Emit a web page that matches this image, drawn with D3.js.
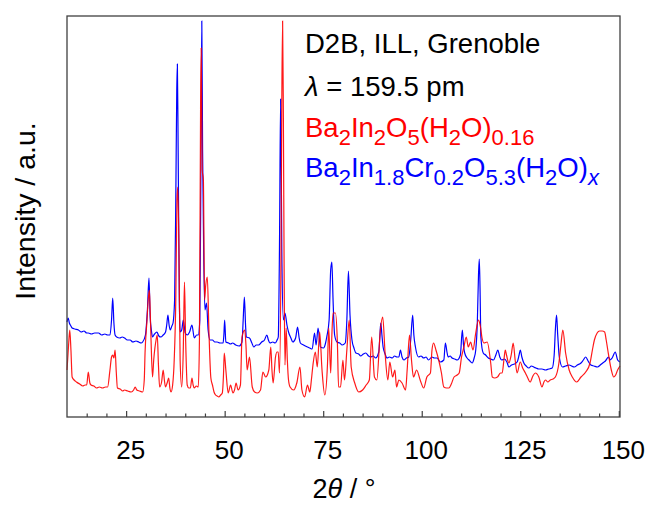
<!DOCTYPE html>
<html>
<head>
<meta charset="utf-8">
<script src="https://cdn.jsdelivr.net/npm/d3@7"></script>
<style>
  body { margin: 0; background: #fff; }
  text { font-family: "Liberation Sans", Arial, sans-serif; }
</style>
</head>
<body>
<div id="chart"></div>
<script>
// x range in 2theta / deg
const twoThetaRange = [10, 150.3];
const majorTicks = [25, 50, 75, 100, 125, 150];
const minorTicks = [15, 20, 30, 35, 40, 45, 55, 60, 65, 70, 80, 85, 90, 95, 105, 110, 115, 120, 130, 135, 140, 145];
const intensityRange = [0, 4010];

// Ba2In2O5(H2O)0.16  [2theta, intensity]
const redPattern = [
  [10.0,470],[10.4,720],[10.7,870],[11.0,670],[11.3,400],[11.8,370],[12.4,350],[13.2,330],[14.0,310],[14.6,320],
  [15.0,320],[15.4,450],[15.8,340],[16.1,320],[16.8,310],[17.5,290],[18.2,300],[19.0,290],[19.8,300],[20.3,300],
  [20.9,470],[21.3,600],[21.6,620],[21.9,590],[22.2,670],[22.5,450],[22.8,290],[23.5,280],[24.1,260],[24.6,270],
  [25.4,260],[26.3,250],[26.9,270],[27.3,300],[27.7,270],[28.4,260],[29.2,250],[29.6,370],[29.8,640],[30.3,970],
  [30.6,1170],[30.9,1270],[31.1,1070],[31.3,800],[31.7,400],[32.0,570],[32.3,690],[32.6,770],[32.9,820],[33.2,520],
  [33.5,300],[34.0,350],[34.4,470],[34.7,370],[35.0,300],[35.4,340],[35.8,390],[36.1,290],[36.4,250],[36.8,320],
  [37.2,570],[37.6,1170],[37.9,2170],[38.1,2300],[38.4,1670],[38.7,570],[39.1,300],[39.5,670],[39.8,1350],[40.1,770],
  [40.5,320],[40.9,290],[41.3,290],[41.7,390],[42.0,320],[42.3,290],[42.8,310],[43.3,300],[43.6,770],[43.9,3170],
  [44.05,3690],[44.3,2470],[44.6,2370],[44.9,1170],[45.2,1320],[45.6,1400],[46.0,870],[46.5,390],[46.9,320],[47.3,250],
  [47.7,220],[48.1,210],[48.5,200],[49.0,220],[49.4,240],[49.7,420],[49.9,640],[50.3,470],[50.9,240],[51.5,320],
  [52.1,240],[52.5,270],[52.9,340],[53.4,270],[54.0,320],[54.4,800],[55.1,870],[55.4,720],[55.7,470],[56.3,600],
  [57.0,300],[57.6,250],[58.3,240],[59.1,270],[59.7,450],[60.4,400],[61.2,470],[61.7,700],[62.0,470],[62.3,340],
  [62.9,600],[63.3,650],[63.6,650],[63.9,440],[64.3,1670],[64.5,3170],[64.7,3960],[64.9,2970],[65.1,1370],[65.3,520],
  [65.6,890],[65.9,570],[66.2,370],[66.6,300],[67.5,270],[68.3,340],[69.1,500],[69.6,270],[70.3,200],[71.0,320],
  [71.6,250],[72.0,370],[72.4,520],[73.0,650],[73.5,500],[74.1,850],[74.7,470],[75.4,220],[76.1,540],[76.4,890],
  [76.9,440],[77.2,820],[77.5,1040],[78.1,1040],[78.6,740],[78.9,300],[79.4,300],[80.0,570],[80.4,370],[81.0,670],
  [81.6,970],[82.1,500],[83.0,340],[84.0,250],[85.0,270],[85.9,320],[86.7,370],[87.3,800],[88.0,400],[88.6,370],
  [89.5,870],[90.1,1000],[90.7,640],[91.4,370],[91.9,550],[92.6,400],[93.2,470],[93.6,300],[94.2,370],[95.0,340],
  [95.9,270],[96.3,470],[96.9,820],[97.4,570],[97.9,400],[98.7,470],[99.6,370],[100.5,290],[101.3,400],[102.2,440],
  [102.6,670],[103.0,740],[103.6,670],[104.3,570],[105.0,440],[105.6,300],[106.3,290],[106.9,290],[107.5,330],[108.2,400],
  [109.0,420],[109.5,440],[110.1,600],[110.7,700],[111.3,800],[111.8,700],[112.4,750],[113.0,670],[113.7,840],[114.4,970],
  [114.9,900],[115.3,790],[115.8,740],[116.6,750],[117.5,540],[117.9,400],[118.5,390],[119.2,400],[120.0,440],[120.4,440],
  [120.9,590],[121.2,670],[121.5,620],[122.1,540],[122.7,620],[123.2,740],[123.7,570],[124.2,440],[125.0,550],[125.6,490],
  [126.3,440],[126.9,390],[127.5,350],[128.2,410],[128.8,440],[129.7,400],[130.5,300],[131.0,350],[131.4,370],[132.0,350],
  [132.6,370],[133.3,380],[133.9,400],[134.8,540],[135.3,720],[135.8,870],[136.5,640],[137.4,470],[138.2,400],[139.3,350],
  [140.4,400],[141.6,450],[142.7,540],[143.3,670],[143.8,770],[144.5,840],[145.1,860],[145.8,860],[146.4,850],[146.8,770],
  [147.2,670],[148.1,470],[148.7,400],[149.2,420],[149.7,470],[150.3,510]
];

// Ba2In1.8Cr0.2O5.3(H2O)x  [2theta, intensity]
const bluePattern = [
  [10.0,950],[10.3,990],[10.6,940],[11.0,910],[11.3,890],[12.0,880],[12.9,870],[13.6,850],[14.3,860],[15.0,840],
  [15.4,840],[16.2,830],[17.0,840],[18.0,840],[18.8,820],[19.6,830],[20.3,820],[20.9,820],[21.3,970],[21.6,1190],
  [21.9,940],[22.2,820],[22.6,800],[23.4,790],[24.0,800],[24.6,790],[25.3,770],[26.0,770],[26.7,750],[27.5,760],
  [28.2,750],[28.8,740],[29.2,750],[29.9,820],[30.4,1070],[30.8,1390],[31.1,1000],[31.4,870],[31.7,800],[32.2,830],
  [32.8,850],[33.3,810],[33.8,800],[34.4,820],[35.0,850],[35.3,920],[35.6,1020],[35.9,920],[36.2,870],[36.6,910],
  [36.9,940],[37.3,1170],[37.6,2170],[37.85,3270],[38.0,3530],[38.2,2670],[38.5,1170],[38.7,850],[39.1,870],[39.5,970],
  [40.0,840],[40.5,820],[41.1,850],[41.7,920],[42.3,790],[42.9,820],[43.3,820],[43.7,970],[44.0,2670],[44.2,3960],
  [44.4,2670],[44.7,1570],[45.0,1070],[45.4,1140],[45.8,870],[46.3,770],[46.9,770],[47.5,750],[48.1,750],[48.8,740],
  [49.6,740],[49.8,820],[50.0,970],[50.3,750],[51.0,740],[51.5,730],[52.0,740],[52.8,720],[53.7,710],[54.4,750],
  [54.7,970],[55.0,1200],[55.3,920],[55.5,800],[56.3,790],[56.9,740],[57.4,700],[58.0,720],[58.6,720],[59.4,750],
  [60.1,770],[60.7,820],[61.1,770],[61.5,740],[62.2,750],[62.8,740],[63.3,770],[63.6,800],[63.9,1670],[64.2,3180],
  [64.5,1670],[64.9,970],[65.3,1040],[65.8,920],[66.2,850],[66.8,790],[67.3,750],[68.0,790],[68.5,900],[68.9,790],
  [69.2,740],[70.0,720],[71.0,700],[71.6,690],[72.2,680],[72.8,840],[73.2,720],[73.7,890],[74.3,700],[75.1,690],
  [75.6,740],[75.9,800],[76.5,970],[76.9,1470],[77.2,1550],[77.5,1170],[77.9,820],[78.5,750],[79.2,740],[79.8,720],
  [80.6,740],[81.0,970],[81.4,1460],[81.8,1020],[82.3,770],[82.8,690],[83.3,640],[84.0,630],[84.5,610],[85.2,630],
  [85.8,640],[86.5,610],[87.0,600],[87.7,610],[88.3,590],[89.1,650],[89.4,820],[89.6,940],[89.9,820],[90.2,700],
  [90.7,630],[91.2,590],[91.8,600],[92.5,590],[93.1,610],[93.7,600],[94.2,600],[94.6,670],[95.0,600],[95.5,570],
  [96.1,590],[96.7,600],[97.2,770],[97.7,1020],[98.0,820],[98.4,700],[99.2,600],[99.8,610],[100.5,590],[101.1,600],
  [101.7,570],[102.6,600],[103.2,590],[103.9,590],[104.7,550],[105.6,570],[106.0,740],[106.4,650],[106.7,600],[107.2,610],
  [107.7,590],[108.4,580],[109.0,570],[109.8,620],[110.3,870],[110.6,720],[110.9,640],[111.5,590],[112.0,570],[112.8,540],
  [113.3,590],[113.7,670],[114.1,940],[114.4,1420],[114.6,1580],[114.8,1270],[115.0,800],[115.6,640],[116.2,620],[116.9,590],
  [117.5,580],[118.2,570],[118.8,620],[119.3,670],[119.8,600],[120.3,570],[121.0,580],[121.6,550],[122.1,500],[122.8,520],
  [123.5,530],[124.2,550],[124.7,620],[125.0,670],[125.4,600],[125.9,540],[126.5,510],[127.2,490],[127.8,510],[128.4,500],
  [129.0,490],[129.7,480],[130.5,480],[131.4,470],[132.2,480],[133.1,490],[133.6,620],[133.9,870],[134.2,1020],[134.5,820],
  [134.9,600],[135.7,500],[136.5,510],[137.4,520],[138.0,510],[138.7,500],[139.5,520],[140.4,540],[141.0,570],[141.6,600],
  [142.2,560],[142.9,520],[143.7,510],[144.6,500],[145.3,520],[145.9,540],[146.6,560],[147.4,600],[147.8,570],[148.3,590],
  [149.1,650],[149.7,570],[150.3,550]
];

const W = 649, H = 509;
const box = {left: 67, right: 620, top: 16, bottom: 417};

const svg = d3.select("#chart")
  .append("svg")
  .attr("width", W)
  .attr("height", H);

const x = d3.scaleLinear().domain(twoThetaRange).range([box.left, box.right]);
const y = d3.scaleLinear().domain(intensityRange).range([box.bottom, box.top]);

// lines
const line = d3.line()
  .curve(d3.curveMonotoneX)
  .x(d => x(d[0]))
  .y(d => y(d[1]));

svg.append("path")
  .datum(bluePattern)
  .attr("fill", "none")
  .attr("stroke", "#0000ff")
  .attr("stroke-width", 1.2)
  .attr("d", line);

svg.append("path")
  .datum(redPattern)
  .attr("fill", "none")
  .attr("stroke", "#ff0000")
  .attr("stroke-width", 1.2)
  .attr("stroke-opacity", 0.9)
  .attr("d", line);

// frame
svg.append("rect")
  .attr("x", box.left)
  .attr("y", box.top)
  .attr("width", box.right - box.left)
  .attr("height", box.bottom - box.top)
  .attr("fill", "none")
  .attr("stroke", "#404040")
  .attr("stroke-width", 1.3);

// bottom axis, ticks pointing inward
const gMinor = svg.append("g")
  .attr("transform", `translate(0,${box.bottom})`)
  .call(d3.axisBottom(x).tickValues(minorTicks).tickSize(-3.5).tickFormat(""));
gMinor.select(".domain").remove();
gMinor.selectAll("line").attr("stroke", "#404040").attr("stroke-width", 1.2);

const gMajor = svg.append("g")
  .attr("transform", `translate(0,${box.bottom})`)
  .call(d3.axisBottom(x).tickValues(majorTicks).tickSize(-6).tickPadding(24));
gMajor.select(".domain").remove();
gMajor.selectAll("line").attr("stroke", "#404040").attr("stroke-width", 1.2);
gMajor.selectAll("text")
  .attr("font-size", 26)
  .attr("font-family", '"Liberation Sans", Arial, sans-serif')
  .attr("fill", "#000")
  .attr("dx", 4);

// axis titles
const xTitle = svg.append("text")
  .attr("x", 344)
  .attr("y", 498)
  .attr("text-anchor", "middle")
  .attr("font-size", 27);
xTitle.append("tspan").text("2");
xTitle.append("tspan").attr("font-style", "italic").text("θ");
xTitle.append("tspan").text(" / °");

svg.append("text")
  .attr("transform", "translate(35,211) rotate(-90)")
  .attr("text-anchor", "middle")
  .attr("font-size", 28.5)
  .text("Intensity / a.u.");

// legend text block
function richText(parent, xPos, yPos, color, parts) {
  const t = parent.append("text")
    .attr("x", xPos)
    .attr("y", yPos)
    .attr("font-size", 27.5)
    .attr("fill", color);
  let shifted = false;
  parts.forEach(p => {
    const s = t.append("tspan").text(p.t);
    if (p.sub && !shifted) { s.attr("dy", 8); shifted = true; }
    if (!p.sub && shifted) { s.attr("dy", -8); shifted = false; }
    if (p.sub) s.attr("font-size", 22);
    if (p.it) s.attr("font-style", "italic");
  });
  return t;
}

const legend = svg.append("g");
richText(legend, 305, 53, "#000", [{t: "D2B, ILL, Grenoble"}]);
richText(legend, 305, 96, "#000", [{t: "λ", it: true}, {t: " = 159.5 pm"}]);
richText(legend, 305, 137, "#ff0000", [
  {t: "Ba"}, {t: "2", sub: true}, {t: "In"}, {t: "2", sub: true}, {t: "O"}, {t: "5", sub: true},
  {t: "(H"}, {t: "2", sub: true}, {t: "O)"}, {t: "0.16", sub: true}
]);
richText(legend, 305, 177, "#0000ff", [
  {t: "Ba"}, {t: "2", sub: true}, {t: "In"}, {t: "1.8", sub: true}, {t: "Cr"}, {t: "0.2", sub: true},
  {t: "O"}, {t: "5.3", sub: true}, {t: "(H"}, {t: "2", sub: true}, {t: "O)"}, {t: "x", sub: true, it: true}
]);
</script>
</body>
</html>
